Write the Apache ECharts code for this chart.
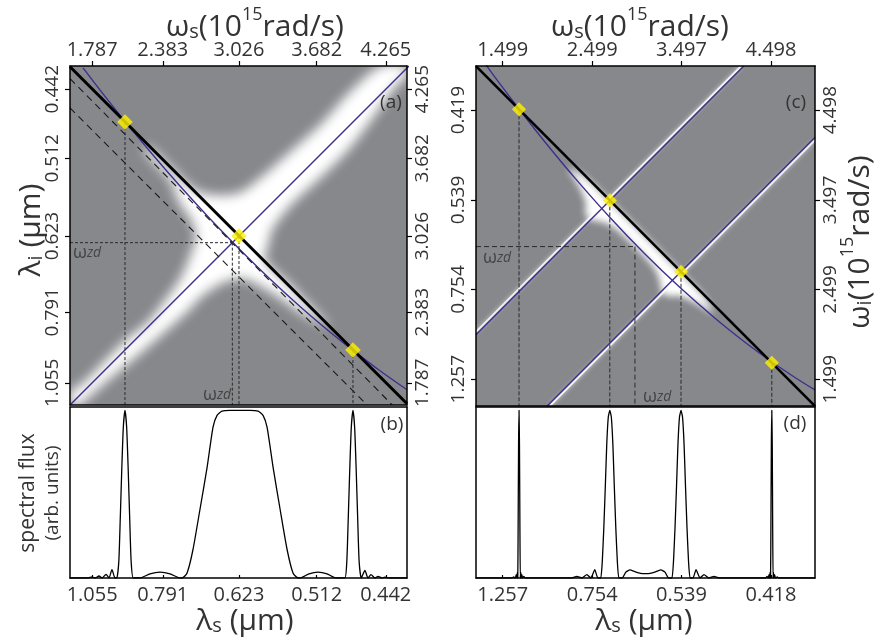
<!DOCTYPE html>
<html>
<head>
<meta charset="utf-8">
<script src="https://cdn.jsdelivr.net/npm/echarts@6/dist/echarts.min.js"></script>
<style>
  html, body { margin: 0; padding: 0; background: #fff; }
  #chart { width: 874px; height: 643px; }
</style>
</head>
<body>
<div id="chart"></div>
<script>
// ---------- panel (a)/(b): frequencies in 1e15 rad/s ----------
const aTicks = [1.787, 2.383, 3.026, 3.682, 4.265];
const aLambdaLabels = ['1.055', '0.791', '0.623', '0.512', '0.442'];
const aRangeX = [1.600, 4.444];
const aRangeY = [1.600, 4.461];
const aPumpLine = [[1.600, 4.455], [4.444, 1.611]];
const aDiagLine = [[1.600, 1.600], [4.461, 4.461]];
const aPhaseCurve = [[1.710, 4.445], [1.887, 4.215], [2.064, 3.994], [2.275, 3.739], [2.528, 3.448],
  [2.781, 3.172], [3.035, 2.911], [3.288, 2.664], [3.541, 2.432], [3.794, 2.216], [3.980, 2.067],
  [4.216, 1.889], [4.444, 1.729]];
const aDash1 = [[1.600, 4.355], [4.320, 1.600]];
const aDash2 = [[1.600, 4.107], [4.107, 1.600]];
const aPeaks = [[2.064, 3.988], [3.026, 3.026], [3.988, 2.064]];
const aZd = 2.97;
// outline of the bright phase-matched region
const aWhite = [[4.224, 4.461], [4.444, 4.461], [4.444, 4.385], [4.351, 4.292], [4.149, 4.014],
  [3.954, 3.761], [3.727, 3.533], [3.457, 3.280], [3.305, 3.077], [3.271, 2.942], [3.246, 2.824],
  [3.457, 2.613], [3.625, 2.436], [3.794, 2.259], [3.693, 2.301], [3.541, 2.385], [3.372, 2.503],
  [3.220, 2.596], [3.077, 2.664], [2.950, 2.655], [2.823, 2.596], [2.697, 2.503], [2.587, 2.385],
  [2.360, 2.183], [2.165, 2.014], [1.963, 1.845], [1.769, 1.676], [1.684, 1.600], [1.600, 1.600],
  [1.600, 1.702], [1.710, 1.786], [1.879, 1.955], [2.081, 2.157], [2.250, 2.292], [2.385, 2.461],
  [2.528, 2.664], [2.613, 2.858], [2.663, 3.026], [2.613, 3.178], [2.528, 3.296], [2.444, 3.499],
  [2.317, 3.642], [2.216, 3.769], [2.275, 3.769], [2.444, 3.609], [2.655, 3.415], [2.824, 3.372],
  [3.026, 3.389], [3.195, 3.507], [3.448, 3.727], [3.727, 3.980], [3.954, 4.233]];
const bFlux = [[1.600, 0], [1.752, 0], [1.786, 0.006], [1.811, 0], [1.845, 0.012], [1.870, 0],
  [1.904, 0.022], [1.929, 0], [1.954, 0.05], [1.980, 0], [1.995, 0], [2.012, 0.1], [2.024, 0.35],
  [2.037, 0.65], [2.050, 0.9], [2.064, 1.0], [2.078, 0.9], [2.091, 0.65], [2.104, 0.35], [2.116, 0.1],
  [2.134, 0], [2.191, 0], [2.275, 0.025], [2.360, 0.035], [2.444, 0.025], [2.528, 0], [2.546, 0],
  [2.588, 0.03], [2.638, 0.17], [2.697, 0.41], [2.757, 0.66], [2.807, 0.90], [2.841, 0.97],
  [2.883, 0.995], [2.951, 1.0], [3.119, 1.0], [3.187, 0.995], [3.229, 0.97], [3.263, 0.90],
  [3.314, 0.66], [3.373, 0.41], [3.432, 0.17], [3.482, 0.03], [3.525, 0], [3.541, 0], [3.617, 0.025],
  [3.693, 0.035], [3.769, 0.025], [3.845, 0], [3.919, 0], [3.936, 0.1], [3.948, 0.35], [3.961, 0.65],
  [3.974, 0.9], [3.988, 1.0], [4.002, 0.9], [4.015, 0.65], [4.028, 0.35], [4.040, 0.1], [4.058, 0],
  [4.089, 0.045], [4.115, 0], [4.140, 0.02], [4.174, 0], [4.199, 0.01], [4.233, 0], [4.258, 0.005],
  [4.292, 0], [4.444, 0]];

// ---------- panel (c)/(d) ----------
const cTicks = [1.499, 2.499, 3.497, 4.498];
const cLambdaLabels = ['1.257', '0.754', '0.539', '0.419'];
const dLambdaLabels = ['1.257', '0.754', '0.539', '0.418'];
const cRange = [1.20, 4.99];
const cPumpLine = [[1.20, 4.988], [4.99, 1.198]];
const cPhaseCurve = [[1.310, 5.010], [1.334, 4.972], [1.468, 4.790], [1.681, 4.511], [1.971, 4.143],
  [2.307, 3.740], [2.698, 3.301], [3.089, 2.894], [3.481, 2.520], [3.872, 2.178], [4.207, 1.911],
  [4.509, 1.690], [4.766, 1.518], [4.990, 1.379]];
const cLineA = [[1.20, 1.995], [4.195, 4.99]];
const cLineB = [[1.995, 1.20], [4.99, 4.195]];
const cFringeA = [[1.20, 2.025], [4.165, 4.99]];
const cFringeB = [[2.025, 1.20], [4.99, 4.165]];
const cPeaks = [[1.681, 4.507], [2.696, 3.492], [3.492, 2.696], [4.507, 1.681]];
const cZd = 2.977;
const cWhite = [[2.23, 3.85], [2.30, 3.74], [2.39, 3.57], [2.43, 3.45], [2.42, 3.37],
  [2.44, 3.31], [2.50, 3.27], [2.61, 3.25], [2.74, 3.19], [2.87, 3.08], [2.975, 2.975],
  [3.08, 2.87], [3.19, 2.74], [3.25, 2.61], [3.27, 2.50], [3.31, 2.44], [3.37, 2.42],
  [3.45, 2.43], [3.57, 2.39], [3.74, 2.30], [3.85, 2.23], [3.78, 2.38], [3.68, 2.50],
  [2.50, 3.68], [2.38, 3.78]];
const dFlux = [[1.20, 0], [1.60, 0], [1.62, 0.006], [1.64, 0], [1.65, 0.02], [1.658, 0], [1.663, 0.035],
  [1.667, 0], [1.671, 0.3], [1.676, 0.8], [1.681, 1.0], [1.686, 0.8], [1.691, 0.3], [1.695, 0],
  [1.700, 0.035], [1.705, 0], [1.712, 0.02], [1.720, 0], [1.735, 0.01], [1.75, 0], [2.271, 0],
  [2.327, 0.01], [2.383, 0], [2.439, 0.02], [2.484, 0], [2.528, 0.05], [2.562, 0], [2.595, 0],
  [2.612, 0.1], [2.629, 0.3], [2.646, 0.55], [2.662, 0.8], [2.679, 0.96], [2.696, 1.0], [2.713, 0.96],
  [2.730, 0.8], [2.746, 0.55], [2.763, 0.3], [2.780, 0.1], [2.797, 0], [2.835, 0], [2.875, 0.035],
  [2.92, 0.048], [2.975, 0.038], [3.04, 0.028], [3.094, 0.026], [3.148, 0.028], [3.213, 0.038],
  [3.268, 0.048], [3.313, 0.035], [3.353, 0], [3.391, 0], [3.408, 0.1], [3.425, 0.3], [3.442, 0.55],
  [3.458, 0.8], [3.475, 0.96], [3.492, 1.0], [3.509, 0.96], [3.526, 0.8], [3.542, 0.55], [3.559, 0.3],
  [3.576, 0.1], [3.593, 0], [3.626, 0], [3.660, 0.05], [3.704, 0], [3.749, 0.02], [3.805, 0],
  [3.861, 0.01], [3.917, 0], [4.438, 0], [4.453, 0.01], [4.468, 0], [4.476, 0.02], [4.483, 0],
  [4.488, 0.035], [4.493, 0], [4.497, 0.3], [4.502, 0.8], [4.507, 1.0], [4.512, 0.8], [4.517, 0.3],
  [4.521, 0], [4.525, 0.035], [4.530, 0], [4.538, 0.02], [4.548, 0], [4.568, 0.006], [4.588, 0], [4.99, 0]];
const fluxRange = [0, 1.02];

// ---------- styling ----------
const TXT = '#333';
const FONT = 'Open Sans';
const GRAY = '#87888c';
const BLUE = '#3f2e8e';
const YELLOW = '#fff200';

function labelOf(ticks, labels) {
  return function (v) {
    const i = ticks.findIndex(t => Math.abs(t - v) < 1e-6);
    return i >= 0 ? labels[i] : '';
  };
}
const fmt3 = v => v.toFixed(3);

// one axis of a framed panel; ticks/labels optional
function axis(gridIndex, position, range, opt) {
  opt = opt || {};
  const a = {
    type: 'value', gridIndex, position, min: range[0], max: range[1], z: 10,
    axisLine: { show: true, onZero: false, lineStyle: { color: '#000', width: 1.5 } },
    splitLine: { show: false },
    axisTick: { show: false },
    axisLabel: { show: false }
  };
  if (opt.ticks) {
    a.axisTick = { show: true, customValues: opt.ticks, inside: !!opt.inside, length: opt.inside ? 3 : 5,
      lineStyle: { color: '#000', width: 1.2 } };
  }
  if (opt.labels) {
    a.axisLabel = Object.assign({ show: true, customValues: opt.ticks, formatter: opt.labels,
      color: TXT, fontFamily: FONT, fontSize: opt.fontSize || 20, margin: opt.margin || 7 }, opt.labelStyle || {});
  }
  return a;
}

const rotLeft = { rotate: 90, align: 'center', verticalAlign: 'bottom' };
const rotRight = { rotate: 90, align: 'center', verticalAlign: 'top' };

const xAxis = [
  axis(0, 'top', aRangeX, { ticks: aTicks, labels: fmt3, margin: 6 }),
  axis(0, 'bottom', aRangeX),
  axis(1, 'top', cRange, { ticks: cTicks, labels: fmt3, margin: 6 }),
  axis(1, 'bottom', cRange),
  axis(2, 'top', aRangeX),
  axis(2, 'bottom', aRangeX, { ticks: aTicks, inside: true, labels: labelOf(aTicks, aLambdaLabels), margin: 7 }),
  axis(3, 'top', cRange),
  axis(3, 'bottom', cRange, { ticks: cTicks, inside: true, labels: labelOf(cTicks, dLambdaLabels), margin: 7 })
];

const yAxis = [
  axis(0, 'left', aRangeY, { ticks: aTicks, labels: labelOf(aTicks, aLambdaLabels), margin: 8, fontSize: 19, labelStyle: rotLeft }),
  axis(0, 'right', aRangeY, { ticks: aTicks, labels: fmt3, margin: 6, fontSize: 19, labelStyle: rotRight }),
  axis(1, 'left', cRange, { ticks: cTicks, labels: labelOf(cTicks, cLambdaLabels), margin: 8, fontSize: 19, labelStyle: rotLeft }),
  axis(1, 'right', cRange, { ticks: cTicks, labels: fmt3, margin: 6, fontSize: 19, labelStyle: rotRight }),
  axis(2, 'left', fluxRange),
  axis(2, 'right', fluxRange),
  axis(3, 'left', fluxRange),
  axis(3, 'right', fluxRange)
];

const grid = [
  { left: 70, top: 66, width: 337, height: 339, show: true, backgroundColor: GRAY, borderWidth: 0 },
  { left: 476, top: 66, width: 339, height: 340, show: true, backgroundColor: GRAY, borderWidth: 0 },
  { left: 70, top: 407, width: 337, height: 171, show: false },
  { left: 476, top: 407, width: 339, height: 171, show: false }
];

// axis index pairs for the four panels
const P = { a: [0, 0], c: [2, 2], b: [5, 4], d: [7, 6] };

function line(panel, data, color, width, dash, z, smooth) {
  return { type: 'line', xAxisIndex: P[panel][0], yAxisIndex: P[panel][1], data, symbol: 'none',
    smooth: smooth || false, silent: true, clip: true, z,
    lineStyle: { color, width, type: dash || 'solid', cap: 'butt' } };
}

// soft-edged bright region: only the blurred shadow of the outline is drawn
const SHIFT = 5000;
function softRegion(panel, pts, blur, z) {
  return { type: 'custom', xAxisIndex: P[panel][0], yAxisIndex: P[panel][1], clip: true, silent: true, z,
    data: [[pts[0][0], pts[0][1]]],
    renderItem: function (params, api) {
      return { type: 'polygon',
        shape: { points: pts.map(p => { const c = api.coord(p); return [c[0] - SHIFT, c[1]]; }), smooth: 0.3 },
        style: { fill: '#ffffff', shadowBlur: blur, shadowColor: '#ffffff', shadowOffsetX: SHIFT } };
    } };
}

// thin bright fringe running beside a phase-matching line
function fringe(panel, data, z) {
  const s = line(panel, data, 'rgba(255,255,255,0.85)', 1.8, 'solid', z);
  s.lineStyle.shadowBlur = 4;
  s.lineStyle.shadowColor = 'rgba(255,255,255,0.9)';
  return s;
}

function markers(panel, data, size) {
  return { type: 'scatter', xAxisIndex: P[panel][0], yAxisIndex: P[panel][1], data, symbol: 'rect',
    symbolRotate: 45, symbolSize: size, silent: true, z: 8,
    itemStyle: { color: YELLOW, borderWidth: 0 } };
}

function dropLines(panel, peaks, floor, dash) {
  return peaks.map(p => line(panel, [[p[0], p[1]], [p[0], floor]], '#2a2a2a', 1, dash, 4));
}

function zdLabel(panel, pos) {
  return { type: 'scatter', xAxisIndex: P[panel][0], yAxisIndex: P[panel][1], data: [pos],
    symbolSize: 0, silent: true, z: 9,
    label: { show: true, position: 'right', distance: 0, formatter: '{w|ω}{z|zd}',
      rich: { w: { fontSize: 18, fontFamily: FONT, color: TXT },
              z: { fontSize: 14, fontFamily: FONT, fontStyle: 'italic', color: TXT } } } };
}

const series = [
  // (a) phase-matching map
  softRegion('a', aWhite, 12, 1),
  line('a', aDiagLine, BLUE, 1.4, 'solid', 3),
  line('a', aPhaseCurve, BLUE, 1.4, 'solid', 3, 0.4),
  line('a', aDash1, '#1a1a1a', 1.1, [7, 5], 4),
  line('a', aDash2, '#1a1a1a', 1.1, [7, 5], 4),
  line('a', [[aRangeX[0], aZd], [aZd, aZd]], '#2a2a2a', 1, [3, 2], 4),
  line('a', [[aZd, aZd], [aZd, aRangeY[0]]], '#2a2a2a', 1, [3, 2], 4),
  ...dropLines('a', aPeaks, aRangeY[0], [3, 2]),
  line('a', aPumpLine, '#000', 3, 'solid', 5),
  markers('a', aPeaks, 11),
  zdLabel('a', [1.625, 2.883]),
  zdLabel('a', [2.722, 1.684]),

  // (c) phase-matching map
  softRegion('c', cWhite, 7, 1),
  fringe('c', cFringeA, 2),
  fringe('c', cFringeB, 2),
  line('c', cLineA, BLUE, 1.4, 'solid', 3),
  line('c', cLineB, BLUE, 1.4, 'solid', 3),
  line('c', cPhaseCurve, BLUE, 1.4, 'solid', 3, 0.4),
  line('c', [[cRange[0], cZd], [cZd, cZd]], '#2a2a2a', 1, [5, 3], 4),
  line('c', [[cZd, cZd], [cZd, cRange[0]]], '#2a2a2a', 1, [5, 3], 4),
  ...dropLines('c', cPeaks, cRange[0], [4, 2]),
  line('c', cPumpLine, '#000', 2.6, 'solid', 5),
  markers('c', cPeaks, 10),
  zdLabel('c', [1.278, 2.850]),
  zdLabel('c', [3.067, 1.300]),

  // (b), (d) spectra
  line('b', bFlux, '#000', 1.3, 'solid', 3, 0.2),
  line('d', dFlux, '#000', 1.3, 'solid', 3, 0.15)
];

// ---------- titles and panel tags ----------
const richTitle = {
  g: { fontSize: 30, fontFamily: FONT, fill: TXT, lineHeight: 36, verticalAlign: 'bottom' },
  s: { fontSize: 20, fontFamily: FONT, fill: TXT, lineHeight: 36, verticalAlign: 'bottom' },
  p: { fontSize: 18, fontFamily: FONT, fill: TXT, lineHeight: 36, verticalAlign: 'top' }
};
const omegaTitle = sub => '{g|ω}{s|' + sub + '}{g|(10}{p|15}{g|rad/s)}';
const lambdaTitle = sub => '{g|λ}{s|' + sub + '}{g| (μm)}';

function title(text, x, y, align, rotation) {
  return { type: 'text', x, y, rotation: rotation || 0, z: 20,
    style: { text, rich: richTitle, align, verticalAlign: 'middle' } };
}
const panelTag = (text, x, y) => ({ type: 'text', x, y, z: 20,
  style: { text, fontSize: 19, fontFamily: FONT, fill: TXT, align: 'center', verticalAlign: 'middle' } });

const graphic = [
  title(omegaTitle('s'), 166, 24, 'left'),
  title(omegaTitle('s'), 551, 24, 'left'),
  title(lambdaTitle('s'), 245, 618, 'center'),
  title(lambdaTitle('s'), 644, 618, 'center'),
  title(lambdaTitle('i'), 28, 230, 'center', Math.PI / 2),
  title(omegaTitle('i'), 857, 242, 'center', Math.PI / 2),
  { type: 'text', x: 40, y: 493, rotation: Math.PI / 2, z: 20,
    style: { text: '{a|spectral flux}\n{b|(arb. units)}', align: 'center', verticalAlign: 'middle',
      rich: { a: { fontSize: 21, fontFamily: FONT, fill: TXT, lineHeight: 26, align: 'center' },
              b: { fontSize: 19, fontFamily: FONT, fill: TXT, lineHeight: 24, align: 'center' } } } },
  panelTag('(a)', 391, 103),
  panelTag('(b)', 392, 425),
  panelTag('(c)', 796, 103),
  panelTag('(d)', 795, 424)
];

const option = {
  animation: false,
  backgroundColor: '#fff',
  grid, xAxis, yAxis, series, graphic
};

const chart = echarts.init(document.getElementById('chart'));
chart.setOption(option);
</script>
</body>
</html>
